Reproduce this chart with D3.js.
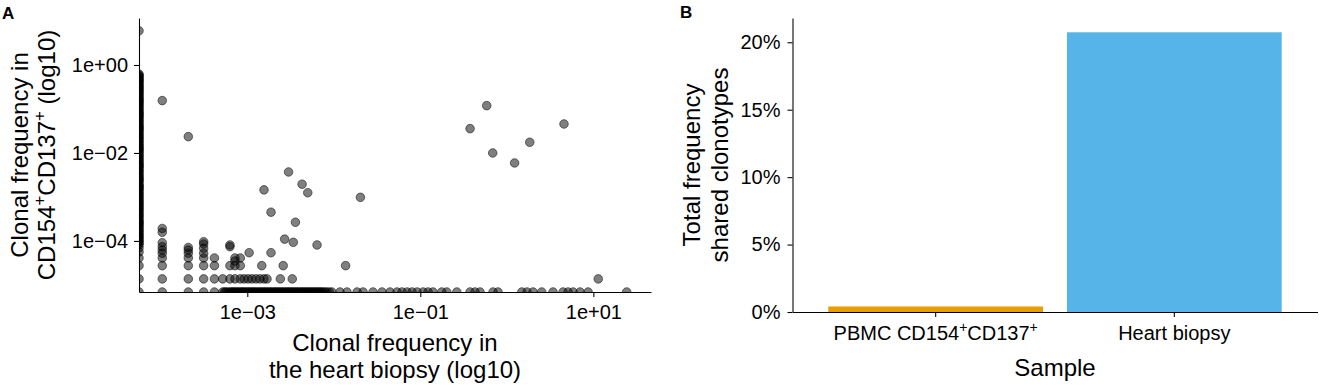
<!DOCTYPE html>
<html>
<head>
<meta charset="utf-8">
<script src="https://cdn.jsdelivr.net/npm/d3@7"></script>
<style>
body { margin: 0; background: #fff; }
svg text { font-family: "Liberation Sans", Arial, sans-serif; fill: #000; }
</style>
</head>
<body>
<div id="chart"></div>
<script>
// ---- panel A data (clonal frequency, log axes) ----
var xFloor = 5.6e-5,   // heart frequency used for clonotypes absent from the biopsy
    yFloor = 6.9e-6;   // CD154+CD137+ frequency used for clonotypes absent from PBMC

// clonotypes only seen in CD154+CD137+ (x at floor)
var pbmcOnlyFreq = [6.0, 0.62, 0.59, 0.55, 0.52, 0.48, 0.455, 0.43, 0.40, 0.37, 0.345, 0.32, 0.30,
    0.28, 0.26, 0.245, 0.225, 0.21, 0.195, 0.178, 0.166, 0.156, 0.146, 0.137, 0.127, 0.117, 0.108,
    0.100, 0.092, 0.085, 0.080, 0.075, 0.070, 0.066, 0.061, 0.056, 0.052, 0.048, 0.044, 0.041, 0.038,
    0.036, 0.034, 0.032, 0.029, 0.027, 0.025, 0.023, 0.0215, 0.020, 0.0185, 0.017, 0.0157, 0.0145,
    0.0135, 0.0126, 0.0119, 0.0112, 0.0103, 0.0095, 0.0088, 0.0081, 0.0075, 0.0069, 0.0064, 0.0059,
    0.0055, 0.0052, 0.0049, 0.0046, 0.0042, 0.0039, 0.0036, 0.0033, 0.0030, 0.0028, 0.0026, 0.00245,
    0.0023, 0.0021, 0.0019, 0.0018, 0.0017, 0.0016, 0.0015, 0.00138, 0.00127, 0.00117, 0.00108,
    0.00100, 0.00092, 0.00085, 0.00079, 0.00073, 0.00068, 0.00063, 0.00058, 0.00054, 0.0005, 0.00046,
    0.00042, 0.00039, 0.00036, 0.00033, 0.00030, 0.00028, 0.00026, 0.000245, 0.00023, 0.00021,
    0.000195, 0.000178, 0.000165, 0.000152, 0.00014, 0.00013, 0.00012, 0.000112, 0.000103, 0.000095,
    0.000088, 0.000081, 0.000069, 0.000056, 0.000041, 0.0000274, 0.0000137];

// clonotypes only seen in the heart biopsy (y at floor)
var heartOnlyFreq = [5.6e-5, 1.04e-4, 2.08e-4, 3.13e-4, 4.17e-4, 5.2e-4, 5.45e-4, 5.67e-4, 6.0e-4,
    6.31e-4, 6.6e-4, 6.84e-4, 7.1e-4, 7.4e-4, 7.7e-4, 8.0e-4, 8.35e-4, 8.7e-4, 9.0e-4, 9.4e-4, 9.8e-4,
    1.02e-3, 1.06e-3, 1.10e-3, 1.15e-3, 1.19e-3, 1.24e-3, 1.29e-3, 1.35e-3, 1.40e-3, 1.46e-3, 1.52e-3,
    1.58e-3, 1.64e-3, 1.71e-3, 1.78e-3, 1.85e-3, 1.93e-3, 2.01e-3, 2.09e-3, 2.17e-3, 2.26e-3, 2.35e-3,
    2.45e-3, 2.55e-3, 2.66e-3, 2.77e-3, 2.88e-3, 3.0e-3, 3.12e-3, 3.25e-3, 3.38e-3, 3.52e-3, 3.66e-3,
    3.8e-3, 3.96e-3, 4.12e-3, 4.29e-3, 4.47e-3, 4.65e-3, 4.84e-3, 5.03e-3, 5.24e-3, 5.45e-3, 5.67e-3,
    5.9e-3, 6.15e-3, 6.4e-3, 6.65e-3, 6.9e-3, 7.2e-3, 7.5e-3, 7.9e-3, 8.3e-3, 8.9e-3, 9.5e-3,
    1.18e-2, 1.42e-2, 1.86e-2, 2.18e-2, 2.84e-2, 3.61e-2, 4.47e-2, 5.38e-2, 6.15e-2, 7.03e-2,
    8.03e-2, 9.2e-2, 0.108, 0.123, 0.140, 0.177, 0.202, 0.264, 0.376, 0.429, 0.490, 0.693, 0.791,
    1.49, 1.71, 2.01, 2.53, 3.42, 4.47, 5.1, 5.83, 7.03, 8.7, 24.3];

// shared clonotypes: [heart, CD154+CD137+]
var sharedFreq = [
    [1.04e-4, 0.155], [2.08e-4, 0.0235], [3.0e-3, 3.7e-3], [1.56e-3, 1.45e-3], [4.3e-3, 1.95e-3],
    [5.0e-3, 1.25e-3], [2.03e-2, 9.8e-4], [1.88e-3, 4.5e-4], [3.6e-3, 2.66e-4], [2.7e-3, 1.1e-4],
    [3.4e-3, 9.3e-5], [6.4e-3, 8.1e-5], [1.88e-3, 5.4e-5], [1.05e-3, 5.4e-5], [0.586, 0.119],
    [0.376, 0.0357], [4.58, 0.0456], [1.84, 0.0175], [0.687, 0.0100], [1.23, 0.00593], [11.4, 1.37e-5],
    [1.04e-4, 1.92e-4], [1.04e-4, 1.58e-4], [1.04e-4, 9.1e-5], [1.04e-4, 7.4e-5], [1.04e-4, 6.2e-5],
    [1.04e-4, 5.25e-5], [1.04e-4, 4.1e-5], [1.04e-4, 2.74e-5], [1.04e-4, 1.37e-5],
    [2.08e-4, 7.1e-5], [2.08e-4, 6.2e-5], [2.08e-4, 5.25e-5], [2.08e-4, 4.1e-5], [2.08e-4, 2.74e-5],
    [2.08e-4, 1.37e-5],
    [3.13e-4, 9.6e-5], [3.13e-4, 8.5e-5], [3.13e-4, 6.8e-5], [3.13e-4, 5.25e-5], [3.13e-4, 4.1e-5],
    [3.13e-4, 2.74e-5], [3.13e-4, 1.37e-5],
    [4.17e-4, 4.1e-5], [4.17e-4, 2.74e-5], [4.17e-4, 1.37e-5], [5.2e-4, 1.37e-5],
    [6.3e-4, 8.1e-5], [6.3e-4, 7.4e-5], [6.3e-4, 2.74e-5], [6.3e-4, 1.37e-5],
    [7.2e-4, 4.1e-5], [7.2e-4, 3.5e-5], [7.2e-4, 2.74e-5], [7.2e-4, 1.37e-5],
    [8.3e-4, 4.1e-5], [8.3e-4, 2.74e-5], [8.3e-4, 1.37e-5],
    [9.2e-4, 1.37e-5], [1.02e-3, 1.37e-5], [1.13e-3, 1.37e-5], [1.26e-3, 1.37e-5], [1.40e-3, 1.37e-5],
    [1.56e-3, 1.37e-5], [1.69e-3, 1.37e-5], [2.41e-3, 1.37e-5], [3.31e-3, 1.37e-5],
    [1.47e-3, 2.74e-5], [2.6e-3, 2.74e-5], [1.37e-2, 2.74e-5]
];

var aTickX = [1e-3, 1e-1, 1e1],
    aTickXLabels = ["1e\u221203", "1e\u221201", "1e+01"],
    aTickY = [1, 1e-2, 1e-4],
    aTickYLabels = ["1e+00", "1e\u221202", "1e\u221204"];

// ---- panel B data ----
var samples = ["PBMC CD154\u207ACD137\u207A", "Heart biopsy"],
    sharedTotal = [0.41, 20.74],   // percent
    sampleColors = ["#E69F00", "#56B4E9"],
    bTicks = [0, 5, 10, 15, 20],
    bTickLabels = ["0%", "5%", "10%", "15%", "20%"];

var widthSvg = 1325,
    heightSvg = 385;

var svg = d3.select("#chart").append("svg")
    .attr("width", widthSvg)
    .attr("height", heightSvg);

// write a label, turning each "⁺" into a raised small plus
function richText(sel, str, size) {
    var parts = str.split("\u207A"),
        up = size * 0.4,
        raised = false;
    sel.text(null);
    parts.forEach(function (p, i) {
        if (p) {
            var t = sel.append("tspan").text(p);
            if (raised) { t.attr("dy", up); raised = false; }
        }
        if (i < parts.length - 1) {
            sel.append("tspan").attr("font-size", size * 0.7).attr("dy", -up).text("+");
            raised = true;
        }
    });
}

function styleAxis(g, size) {
    g.attr("font-size", size).attr("font-family", null);
    g.selectAll("path, line").attr("stroke", "#000").attr("stroke-width", 1.07);
    g.selectAll("text").attr("fill", "#000");
}

// ================= panel A =================
var xA = d3.scaleLog().domain([xFloor, 46.4]).range([139, 651]),
    yA = d3.scaleLog().domain([yFloor, 11.7]).range([292, 18]);

svg.append("clipPath").attr("id", "clipA")
    .append("rect")
    .attr("x", 139).attr("y", 18)
    .attr("width", 512).attr("height", 274);

var pts = pbmcOnlyFreq.map(function (v) { return [xFloor, v]; })
    .concat(heartOnlyFreq.map(function (v) { return [v, yFloor]; }))
    .concat(sharedFreq);

svg.append("g")
    .attr("clip-path", "url(#clipA)")
    .selectAll("circle")
    .data(pts)
    .enter().append("circle")
    .attr("cx", function (d) { return xA(d[0]); })
    .attr("cy", function (d) { return yA(d[1]); })
    .attr("r", 4.3)
    .attr("fill", "#000")
    .attr("fill-opacity", 0.5)
    .attr("stroke", "#000")
    .attr("stroke-opacity", 0.5)
    .attr("stroke-width", 1);

svg.append("g")
    .attr("transform", "translate(0,292)")
    .call(d3.axisBottom(xA).tickValues(aTickX)
        .tickFormat(function (d, i) { return aTickXLabels[i]; })
        .tickSize(5).tickPadding(8).tickSizeOuter(0))
    .call(styleAxis, 20);

svg.append("g")
    .attr("transform", "translate(139,0)")
    .call(d3.axisLeft(yA).tickValues(aTickY)
        .tickFormat(function (d, i) { return aTickYLabels[i]; })
        .tickSize(5).tickPadding(6).tickSizeOuter(0))
    .call(styleAxis, 20);

svg.append("text")
    .attr("x", 395).attr("y", 351)
    .attr("text-anchor", "middle").attr("font-size", 24)
    .text("Clonal frequency in");
svg.append("text")
    .attr("x", 395).attr("y", 378)
    .attr("text-anchor", "middle").attr("font-size", 24)
    .text("the heart biopsy (log10)");

svg.append("text")
    .attr("transform", "translate(28,155) rotate(-90)")
    .attr("text-anchor", "middle").attr("font-size", 24)
    .text("Clonal frequency in");
svg.append("text")
    .attr("transform", "translate(55,155) rotate(-90)")
    .attr("text-anchor", "middle").attr("font-size", 24)
    .call(richText, "CD154\u207ACD137\u207A (log10)", 24);

svg.append("text")
    .attr("x", 2).attr("y", 19)
    .attr("font-size", 17).attr("font-weight", "bold")
    .text("A");

// ================= panel B =================
var xB = d3.scaleBand().domain(samples)
    .range([792.5, 1317.5])
    .paddingInner(0.1).paddingOuter(0.15),
    yB = d3.scaleLinear().domain([0, 21.8]).range([312, 18]);

svg.append("g")
    .selectAll("rect")
    .data(samples)
    .enter().append("rect")
    .attr("x", function (d) { return xB(d); })
    .attr("y", function (d, i) { return yB(sharedTotal[i]); })
    .attr("width", xB.bandwidth())
    .attr("height", function (d, i) { return yB(0) - yB(sharedTotal[i]); })
    .attr("fill", function (d, i) { return sampleColors[i]; });

svg.append("g")
    .attr("transform", "translate(0,312)")
    .call(d3.axisBottom(xB).tickSize(5).tickPadding(9).tickSizeOuter(0))
    .call(styleAxis, 20)
    .selectAll(".tick text")
    .each(function (d) { richText(d3.select(this), d, 20); });

svg.append("g")
    .attr("transform", "translate(792.5,0)")
    .call(d3.axisLeft(yB).tickValues(bTicks)
        .tickFormat(function (d, i) { return bTickLabels[i]; })
        .tickSize(5).tickPadding(7).tickSizeOuter(0))
    .call(styleAxis, 20);

svg.append("text")
    .attr("x", 1055).attr("y", 376)
    .attr("text-anchor", "middle").attr("font-size", 24)
    .text("Sample");

svg.append("text")
    .attr("transform", "translate(700,165) rotate(-90)")
    .attr("text-anchor", "middle").attr("font-size", 24)
    .text("Total frequency");
svg.append("text")
    .attr("transform", "translate(728,165) rotate(-90)")
    .attr("text-anchor", "middle").attr("font-size", 24)
    .text("shared clonotypes");

svg.append("text")
    .attr("x", 680).attr("y", 18)
    .attr("font-size", 17).attr("font-weight", "bold")
    .text("B");
</script>
</body>
</html>
